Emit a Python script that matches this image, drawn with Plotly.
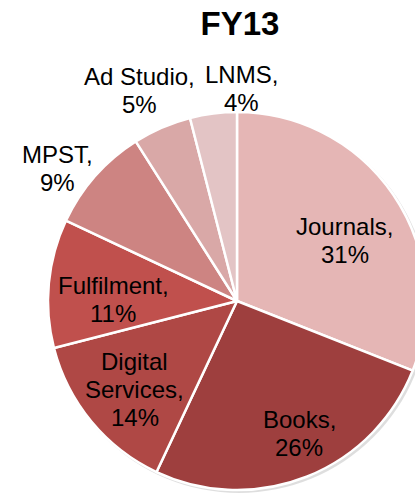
import math
import plotly.graph_objects as go

# FY13 revenue mix by business line (percent of total)
categories = ["Journals", "Books", "Digital Services", "Fulfilment", "MPST", "Ad Studio", "LNMS"]
shares = [31, 26, 14, 11, 9, 5, 4]
label_lines = [["Journals,"], ["Books,"], ["Digital", "Services,"], ["Fulfilment,"],
               ["MPST,"], ["Ad Studio,"], ["LNMS,"]]
title_text = "FY13"

# slice styling
slice_colors = ["#E5B6B5", "#9E3F3E", "#AF4845", "#C0504D", "#CD8482", "#D9A8A7", "#E3C4C5"]
# label placement: radius as a fraction of the pie radius, and a small angular nudge (degrees)
label_radius = [0.655, 0.772, 0.713, 0.656, 1.177, 1.224, 1.127]
label_turn = [4.9, -3.6, -1.2, -4.5, -5.0, -1.4, 8.3]

W, H = 432, 495
CX, CY, R = 237, 301, 189
FONT = "Liberation Sans, Arial, sans-serif"
LABEL_SIZE = 24
LINE_PITCH = 28

dom_x = [(CX - R) / W, (CX + R) / W]
dom_y = [1 - (CY + R) / H, 1 - (CY - R) / H]

fig = go.Figure()
fig.add_trace(go.Pie(
    labels=categories,
    values=shares,
    sort=False,
    direction="clockwise",
    rotation=0,
    marker=dict(colors=slice_colors, line=dict(color="white", width=2.5)),
    textinfo="none",
    hoverinfo="label+percent",
    showlegend=False,
    domain=dict(x=dom_x, y=dom_y),
))

# soft drop shadow behind the pie
shadow_off = 2
fig.add_shape(
    type="circle", xref="paper", yref="paper", layer="below",
    x0=(CX - R - 1 + shadow_off) / W, x1=(CX + R + 1 + shadow_off) / W,
    y0=1 - (CY + R + 1 + shadow_off) / H, y1=1 - (CY - R - 1 + shadow_off) / H,
    fillcolor="rgba(0,0,0,0.13)", line=dict(width=0),
)

# data labels placed around each slice's mid angle, one annotation per text line
total = sum(shares)
cum = 0
for lines, val, rf, turn in zip(label_lines, shares, label_radius, label_turn):
    mid = (cum + val / 2) / total * 360 + turn
    cum += val
    px = CX + rf * R * math.sin(math.radians(mid))
    py = CY - rf * R * math.cos(math.radians(mid))
    rows = lines + [f"{round(val / total * 100)}%"]
    n = len(rows)
    for i, row in enumerate(rows):
        ly = py + (i - (n - 1) / 2) * LINE_PITCH
        fig.add_annotation(
            x=px / W, y=1 - ly / H, xref="paper", yref="paper",
            text=row, showarrow=False, xanchor="center", yanchor="middle",
            font=dict(family=FONT, size=LABEL_SIZE, color="#000000"),
        )

fig.update_layout(
    width=W, height=H,
    margin=dict(l=0, r=0, t=0, b=0),
    paper_bgcolor="white", plot_bgcolor="white",
    title=dict(
        text=f"<b>{title_text}</b>", x=240 / W, xanchor="center",
        y=1 - 23 / H, yanchor="middle",
        font=dict(family=FONT, size=33, color="#000000"),
    ),
)

fig.write_html(
    "out.html",
    post_script="document.documentElement.style.overflow='hidden';"
                "document.body.style.overflow='hidden';document.body.style.margin='0';",
)
